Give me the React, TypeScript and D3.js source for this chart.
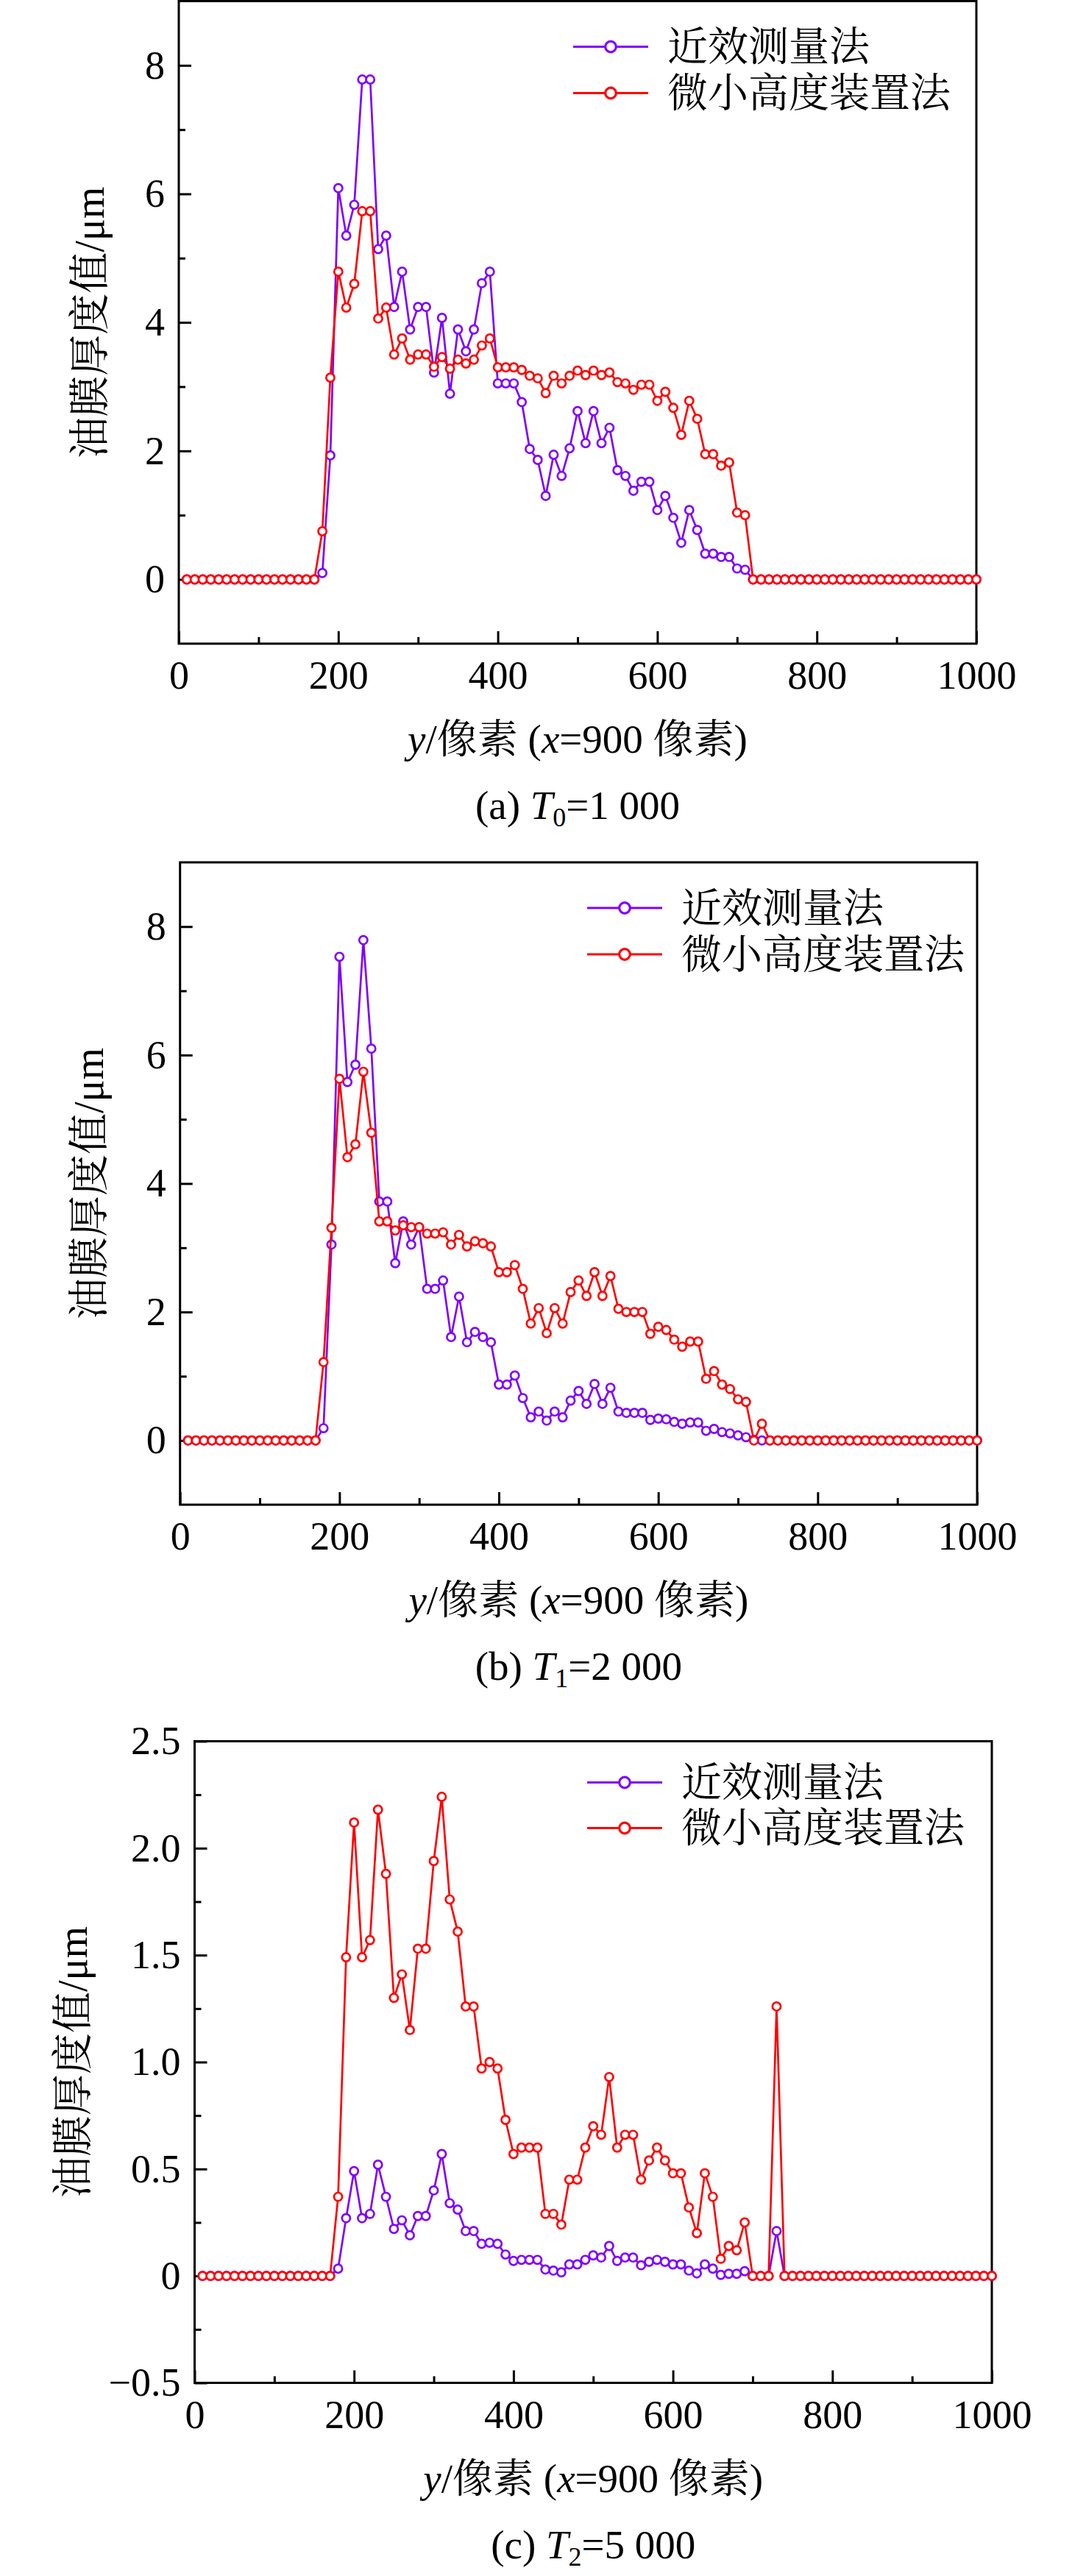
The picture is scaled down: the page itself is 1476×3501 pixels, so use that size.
import { useEffect, useRef } from 'react';
import * as d3 from 'd3';

// sampling positions along y (pixels)
const positions = [
  10, 20, 30, 40, 50, 60, 70, 80, 90, 100,
  110, 120, 130, 140, 150, 160, 170, 180, 190, 200,
  210, 220, 230, 240, 250, 260, 270, 280, 290, 300,
  310, 320, 330, 340, 350, 360, 370, 380, 390, 400,
  410, 420, 430, 440, 450, 460, 470, 480, 490, 500,
  510, 520, 530, 540, 550, 560, 570, 580, 590, 600,
  610, 620, 630, 640, 650, 660, 670, 680, 690, 700,
  710, 720, 730, 740, 750, 760, 770, 780, 790, 800,
  810, 820, 830, 840, 850, 860, 870, 880, 890, 900,
  910, 920, 930, 940, 950, 960, 970, 980, 990, 1000,
];

// (a) T0 = 1 000
const nearA = [
  0, 0, 0, 0, 0, 0, 0, 0, 0, 0,
  0, 0, 0, 0, 0, 0, 0, 0.1, 1.93, 6.09,
  5.35, 5.83, 7.78, 7.78, 5.14, 5.35, 4.24, 4.79, 3.89, 4.24,
  4.24, 3.22, 4.07, 2.89, 3.89, 3.55, 3.89, 4.61, 4.79, 3.05,
  3.05, 3.05, 2.76, 2.03, 1.86, 1.3, 1.94, 1.61, 2.04, 2.62,
  2.12, 2.62, 2.12, 2.36, 1.7, 1.61, 1.38, 1.52, 1.52, 1.08,
  1.3, 0.96, 0.57, 1.08, 0.77, 0.4, 0.4, 0.35, 0.35, 0.17,
  0.15, 0, 0, 0, 0, 0, 0, 0, 0, 0,
  0, 0, 0, 0, 0, 0, 0, 0, 0, 0,
  0, 0, 0, 0, 0, 0, 0, 0, 0, 0,
];
const microA = [
  0, 0, 0, 0, 0, 0, 0, 0, 0, 0,
  0, 0, 0, 0, 0, 0, 0, 0.75, 3.14, 4.79,
  4.23, 4.6, 5.73, 5.73, 4.06, 4.23, 3.5, 3.75, 3.42, 3.5,
  3.5, 3.31, 3.46, 3.28, 3.42, 3.36, 3.42, 3.64, 3.75, 3.3,
  3.3, 3.3, 3.26, 3.17, 3.13, 2.9, 3.17, 3.05, 3.17, 3.25,
  3.18, 3.25, 3.18, 3.22, 3.07, 3.05, 2.95, 3.03, 3.03, 2.78,
  2.92, 2.67, 2.25, 2.78, 2.5, 1.95, 1.95, 1.77, 1.82, 1.04,
  1.0, 0, 0, 0, 0, 0, 0, 0, 0, 0,
  0, 0, 0, 0, 0, 0, 0, 0, 0, 0,
  0, 0, 0, 0, 0, 0, 0, 0, 0, 0,
];

// (b) T1 = 2 000
const nearB = [
  0, 0, 0, 0, 0, 0, 0, 0, 0, 0,
  0, 0, 0, 0, 0, 0, 0, 0.19, 3.05, 7.53,
  5.58, 5.85, 7.79, 6.1, 3.72, 3.72, 2.76, 3.41, 3.05, 3.32,
  2.36, 2.36, 2.49, 1.61, 2.24, 1.53, 1.69, 1.61, 1.53, 0.87,
  0.87, 1.01, 0.66, 0.36, 0.45, 0.31, 0.45, 0.36, 0.62, 0.77,
  0.57, 0.88, 0.57, 0.82, 0.45, 0.43, 0.43, 0.43, 0.32, 0.34,
  0.33, 0.29, 0.26, 0.28, 0.28, 0.15, 0.18, 0.13, 0.11, 0.08,
  0.05, 0.01, 0, 0, 0, 0, 0, 0, 0, 0,
  0, 0, 0, 0, 0, 0, 0, 0, 0, 0,
  0, 0, 0, 0, 0, 0, 0, 0, 0, 0,
];
const microB = [
  0, 0, 0, 0, 0, 0, 0, 0, 0, 0,
  0, 0, 0, 0, 0, 0, 0, 1.22, 3.31, 5.63,
  4.41, 4.61, 5.74, 4.79, 3.41, 3.41, 3.27, 3.35, 3.32, 3.32,
  3.22, 3.22, 3.24, 3.05, 3.2, 3.02, 3.1, 3.07, 3.02, 2.62,
  2.62, 2.73, 2.36, 1.82, 2.06, 1.67, 2.06, 1.82, 2.31, 2.49,
  2.25, 2.62, 2.25, 2.56, 2.05, 2.0, 2.0, 2.0, 1.66, 1.77,
  1.72, 1.57, 1.46, 1.54, 1.54, 0.96, 1.08, 0.87, 0.8, 0.64,
  0.6, 0, 0.26, 0, 0, 0, 0, 0, 0, 0,
  0, 0, 0, 0, 0, 0, 0, 0, 0, 0,
  0, 0, 0, 0, 0, 0, 0, 0, 0, 0,
];

// (c) T2 = 5 000
const nearC = [
  0, 0, 0, 0, 0, 0, 0, 0, 0, 0,
  0, 0, 0, 0, 0, 0, 0, 0.034, 0.27, 0.49,
  0.27, 0.29, 0.52, 0.37, 0.22, 0.26, 0.19, 0.28, 0.28, 0.4,
  0.57, 0.34, 0.31, 0.21, 0.21, 0.15, 0.155, 0.15, 0.1, 0.07,
  0.075, 0.075, 0.075, 0.03, 0.025, 0.017, 0.054, 0.054, 0.075, 0.096,
  0.086, 0.14, 0.07, 0.086, 0.086, 0.05, 0.066, 0.075, 0.066, 0.054,
  0.054, 0.025, 0.012, 0.054, 0.034, 0.005, 0.01, 0.01, 0.022, 0,
  0, 0, 0.21, 0, 0, 0, 0, 0, 0, 0,
  0, 0, 0, 0, 0, 0, 0, 0, 0, 0,
  0, 0, 0, 0, 0, 0, 0, 0, 0, 0,
];
const microC = [
  0, 0, 0, 0, 0, 0, 0, 0, 0, 0,
  0, 0, 0, 0, 0, 0, 0, 0.37, 1.49, 2.12,
  1.49, 1.57, 2.18, 1.88, 1.3, 1.41, 1.15, 1.53, 1.53, 1.94,
  2.24, 1.76, 1.61, 1.26, 1.26, 0.97, 1.0, 0.97, 0.73, 0.57,
  0.6, 0.6, 0.6, 0.29, 0.29, 0.24, 0.45, 0.45, 0.6, 0.7,
  0.66, 0.93, 0.6, 0.66, 0.66, 0.45, 0.54, 0.6, 0.54, 0.48,
  0.48, 0.32, 0.2, 0.48, 0.37, 0.08, 0.14, 0.12, 0.25, 0,
  0, 0, 1.26, 0, 0, 0, 0, 0, 0, 0,
  0, 0, 0, 0, 0, 0, 0, 0, 0, 0,
  0, 0, 0, 0, 0, 0, 0, 0, 0, 0,
];

const seriesNames = ['近效测量法', '微小高度装置法'];
const xMajor = [0, 200, 400, 600, 800, 1000];
const xMinor = [100, 300, 500, 700, 900];
const yMajorAB = [0, 2, 4, 6, 8];
const yMinorAB = [1, 3, 5, 7];
const yMajorC = [-0.5, 0, 0.5, 1, 1.5, 2, 2.5];
const yMinorC = [-0.25, 0.25, 0.75, 1.25, 1.75, 2.25];

const PURPLE = '#7f00ff';
const RED = '#ff0000';
const FONT = "'Liberation Serif', 'Times New Roman', 'Noto Serif CJK SC', 'Noto Sans CJK SC', serif";

interface PanelSpec {
  near: number[];
  micro: number[];
  yDomain: [number, number];
  yMajor: number[];
  yMinor: number[];
  yFormat: (v: number) => string;
  label: string;
  sub: string;
  value: string;
  box: { left: number; right: number; top: number; bottom: number };
  legend: { x: number; dy1: number; dy2: number };
  yTitleX: number;
}

const fmtInt = (v: number) => String(v);
const fmtC = (v: number) => (v === 0 ? '0' : v < 0 ? '−' + Math.abs(v).toFixed(1) : v.toFixed(1));

const panels: PanelSpec[] = [
  {
    near: nearA, micro: microA, yDomain: [-1, 9], yMajor: yMajorAB, yMinor: yMinorAB, yFormat: fmtInt,
    label: '(a) ', sub: '0', value: '=1 000',
    box: { left: 243, right: 1327, top: 1.5, bottom: 874.8 },
    legend: { x: 779, dy1: 62, dy2: 125 },
    yTitleX: 122,
  },
  {
    near: nearB, micro: microB, yDomain: [-1, 9], yMajor: yMajorAB, yMinor: yMinorAB, yFormat: fmtInt,
    label: '(b) ', sub: '1', value: '=2 000',
    box: { left: 244.7, right: 1328, top: 1172, bottom: 2045 },
    legend: { x: 798, dy1: 62, dy2: 125 },
    yTitleX: 121,
  },
  {
    near: nearC, micro: microC, yDomain: [-0.5, 2.5], yMajor: yMajorC, yMinor: yMinorC, yFormat: fmtC,
    label: '(c) ', sub: '2', value: '=5 000',
    box: { left: 264.5, right: 1348, top: 2366.5, bottom: 3238.5 },
    legend: { x: 798, dy1: 56, dy2: 118 },
    yTitleX: 99,
  },
];

function ThicknessPanel({ spec }: { spec: PanelSpec }) {
  const ref = useRef<SVGGElement>(null);

  useEffect(() => {
    if (!ref.current) return;
    const g = d3.select(ref.current);
    g.selectAll('*').remove();

    const { left, right, top, bottom } = spec.box;
    const x = d3.scaleLinear().domain([0, 1000]).range([left, right]);
    const y = d3.scaleLinear().domain(spec.yDomain).range([bottom, top]);

    const styleAxis = (sel: d3.Selection<SVGGElement, unknown, null, undefined>) => {
      sel.select('.domain').remove();
      sel.selectAll('line').attr('stroke', '#000').attr('stroke-width', 3);
      sel.selectAll('text').attr('fill', '#000');
      sel.attr('font-family', FONT).attr('font-size', 54);
    };

    // frame
    g.append('rect')
      .attr('x', left)
      .attr('y', top)
      .attr('width', right - left)
      .attr('height', bottom - top)
      .attr('fill', 'none')
      .attr('stroke', '#000')
      .attr('stroke-width', 3);

    // bottom axis, ticks pointing in
    g.append('g')
      .attr('transform', `translate(0,${bottom})`)
      .call(d3.axisBottom(x).tickValues(xMinor).tickSize(-9).tickFormat(() => ''))
      .call(styleAxis);
    g.append('g')
      .attr('transform', `translate(0,${bottom})`)
      .call(d3.axisBottom(x).tickValues(xMajor).tickSize(-17).tickPadding(23).tickFormat(d => String(d)))
      .call(styleAxis);

    // left axis
    g.append('g')
      .attr('transform', `translate(${left},0)`)
      .call(d3.axisLeft(y).tickValues(spec.yMinor).tickSize(-9).tickFormat(() => ''))
      .call(styleAxis);
    g.append('g')
      .attr('transform', `translate(${left},0)`)
      .call(d3.axisLeft(y).tickValues(spec.yMajor).tickSize(-17).tickPadding(19)
        .tickFormat(d => spec.yFormat(d as number)))
      .call(styleAxis);

    const line = d3.line<number>()
      .x((_, i) => x(positions[i]))
      .y(d => y(d));

    const drawSeries = (values: number[], color: string) => {
      g.append('path')
        .datum(values)
        .attr('fill', 'none')
        .attr('stroke', color)
        .attr('stroke-width', 2.7)
        .attr('stroke-linejoin', 'round')
        .attr('d', line);
      g.append('g')
        .selectAll('circle')
        .data(values)
        .enter().append('circle')
        .attr('cx', (_, i) => x(positions[i]))
        .attr('cy', d => y(d))
        .attr('r', 5.6)
        .attr('fill', '#fff')
        .attr('stroke', color)
        .attr('stroke-width', 2.7);
    };
    drawSeries(spec.near, PURPLE);
    drawSeries(spec.micro, RED);

    // legend
    const legend = g.append('g');
    [[spec.legend.dy1, PURPLE], [spec.legend.dy2, RED]].forEach(([dy, color], i) => {
      const ly = top + (dy as number);
      legend.append('line')
        .attr('x1', spec.legend.x).attr('x2', spec.legend.x + 102)
        .attr('y1', ly).attr('y2', ly)
        .attr('stroke', color as string).attr('stroke-width', 3);
      legend.append('circle')
        .attr('cx', spec.legend.x + 51).attr('cy', ly).attr('r', 7.3)
        .attr('fill', '#fff').attr('stroke', color as string).attr('stroke-width', 3.2);
      legend.append('text')
        .attr('x', spec.legend.x + 128).attr('y', ly)
        .attr('dominant-baseline', 'central')
        .attr('font-family', FONT).attr('font-size', 55)
        .text(seriesNames[i]);
    });

    // y title
    g.append('text')
      .attr('transform', `translate(${spec.yTitleX},${(top + bottom) / 2}) rotate(-90)`)
      .attr('text-anchor', 'middle')
      .attr('dominant-baseline', 'central')
      .attr('font-family', FONT)
      .attr('font-size', 56)
      .text('油膜厚度值/μm');

    // x title
    const xt = g.append('text')
      .attr('x', (left + right) / 2)
      .attr('y', bottom + 148)
      .attr('text-anchor', 'middle')
      .attr('font-family', FONT)
      .attr('font-size', 55);
    xt.append('tspan').attr('font-style', 'italic').text('y');
    xt.append('tspan').text('/像素 (');
    xt.append('tspan').attr('font-style', 'italic').text('x');
    xt.append('tspan').text('=900 像素)');

    // caption
    const cap = g.append('text')
      .attr('x', (left + right) / 2)
      .attr('y', bottom + 238)
      .attr('text-anchor', 'middle')
      .attr('font-family', FONT)
      .attr('font-size', 55);
    cap.append('tspan').text(spec.label);
    cap.append('tspan').attr('font-style', 'italic').text('T');
    cap.append('tspan').attr('font-size', 36).attr('baseline-shift', '-28%').text(spec.sub);
    cap.append('tspan').text(spec.value);
  }, [spec]);

  return <g ref={ref} />;
}

export default function App() {
  return (
    <svg
      width={1476}
      height={3501}
      style={{ position: 'absolute', left: 0, top: 0, background: '#fff' }}
    >
      <rect x={0} y={0} width={1476} height={3501} fill="#fff" />
      {panels.map((p, i) => (
        <ThicknessPanel key={i} spec={p} />
      ))}
    </svg>
  );
}
